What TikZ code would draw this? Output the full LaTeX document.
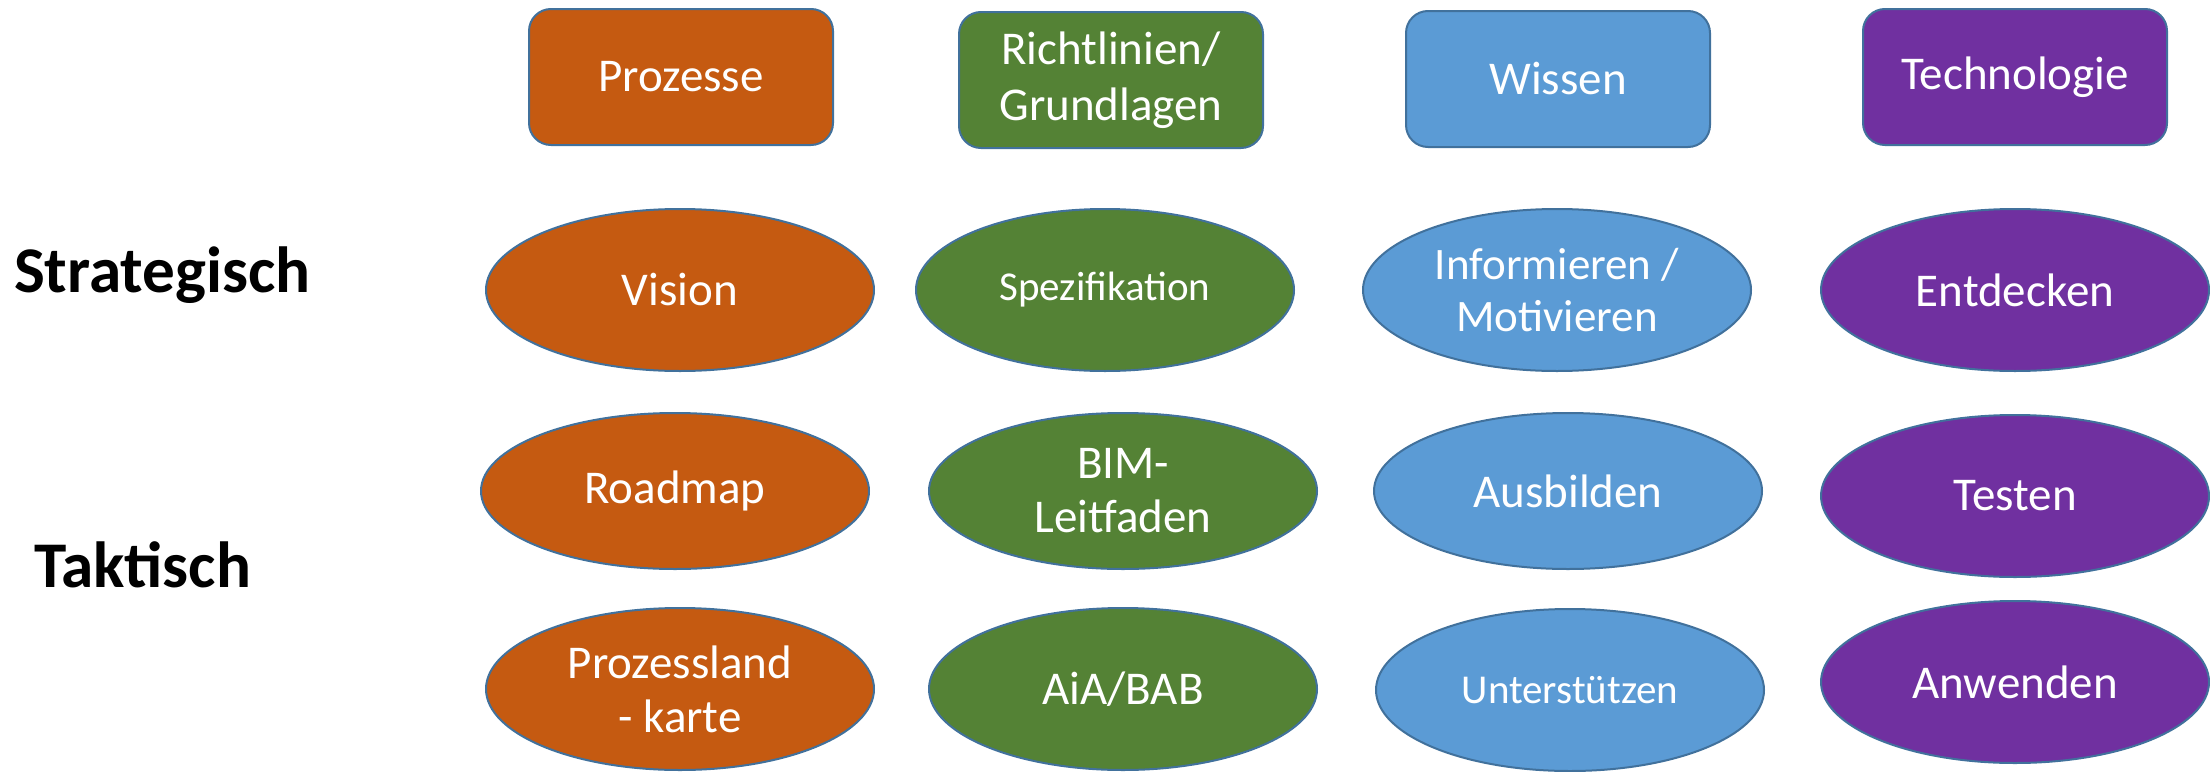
\documentclass[tikz,border=0pt]{standalone}
\usepackage{fontspec}
\setmainfont{Carlito}
\usepackage{xcolor}
\usepackage{tikz}
\usetikzlibrary{shapes.geometric}
\definecolor{prozorange}{HTML}{C55A11}
\definecolor{richtgreen}{HTML}{548235}
\definecolor{wissblue}{HTML}{5B9BD5}
\definecolor{techpurple}{HTML}{7030A0}
\definecolor{rimblue}{HTML}{41719C}
\tikzset{
  catnode/.style  = {shape=rectangle, rounded corners=11pt,
                     draw=rimblue, line width=1pt, align=center,
                     text=white, inner sep=0pt,
                     minimum width=152pt, minimum height=68pt,
                     font=\fontsize{23.5}{28}\selectfont},
  actnode/.style  = {shape=ellipse, draw=rimblue, line width=1pt,
                     align=center, text=white, inner sep=0pt,
                     minimum width=194pt, minimum height=81pt,
                     font=\fontsize{23.5}{27}\selectfont},
  smalltext/.style = {font=\fontsize{20.5}{25}\selectfont},
  rowlabel/.style = {anchor=west, font=\bfseries\fontsize{32.6}{38}\selectfont},
  proz/.style     = {fill=prozorange},
  richt/.style    = {fill=richtgreen},
  wiss/.style     = {fill=wissblue},
  tech/.style     = {fill=techpurple}
}
\begin{document}
\begin{tikzpicture}[x=0.5pt, y=-0.5pt]
  \useasboundingbox (0,0) rectangle (2210,771);
  % Kategorien
  \node [catnode, proz]  (prozesse)    at (681,77)   {Prozesse};
  \node [catnode, richt] (richtlinien) at (1111,80)  {Richtlinien/\\Grundlagen};
  \node [catnode, wiss]  (wissen)      at (1558,79)  {Wissen};
  \node [catnode, tech]  (technologie) at (2015,77)  {Technologie};
  % Ebenen
  \node [rowlabel] (strategisch) at (7,275) {Strategisch};
  \node [rowlabel] (taktisch)    at (27,565) {Taktisch};
  % strategisch
  \node [actnode, proz]  (vision)      at (680,290)  {Vision};
  \node [actnode, richt, smalltext, minimum width=189pt]
                         (spezifikation) at (1105,290) {Spezifikation};
  \node [actnode, wiss, font=\fontsize{22.5}{26}\selectfont]
                         (informieren) at (1557,290) {Informieren /\\Motivieren};
  \node [actnode, tech]  (entdecken)   at (2015,290) {Entdecken};
  % taktisch
  \node [actnode, proz, minimum height=78pt]  (roadmap)   at (675,491)  {Roadmap};
  \node [actnode, richt, minimum height=78pt] (leitfaden) at (1123,491) {BIM-\\Leitfaden};
  \node [actnode, wiss, minimum height=78pt]  (ausbilden) at (1568,491) {Ausbilden};
  \node [actnode, tech]  (testen)      at (2015,496) {Testen};
  \node [actnode, proz]  (landkarte)   at (680,689)  {Prozessland\\- karte};
  \node [actnode, richt] (aiabab)      at (1123,689) {AiA/BAB};
  \node [actnode, wiss, smalltext] (unterstuetzen) at (1570,690) {Unterstützen};
  \node [actnode, tech]  (anwenden)    at (2015,682) {Anwenden};
\end{tikzpicture}
\end{document}
